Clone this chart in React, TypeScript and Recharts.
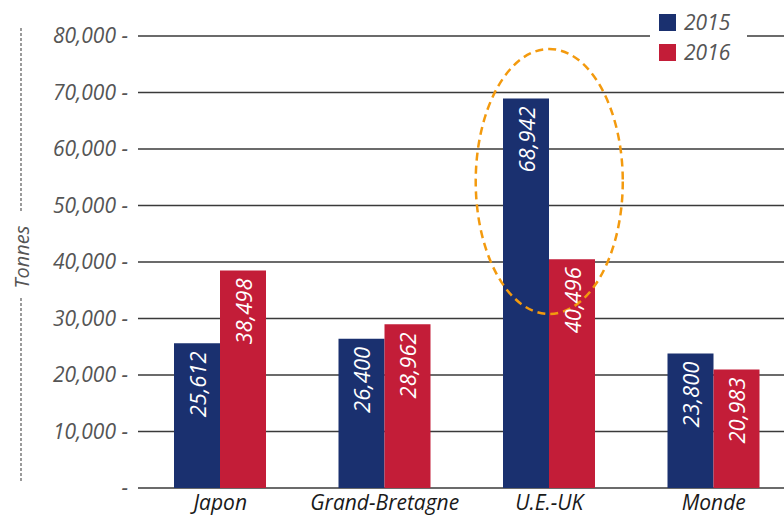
import React from 'react';
import {
  BarChart,
  Bar,
  XAxis,
  YAxis,
  CartesianGrid,
  Legend,
  LabelList,
  ReferenceArea,
} from 'recharts';

const categories = ['Japon', 'Grand-Bretagne', 'U.E.-UK', 'Monde'];
const values2015 = [25612, 26400, 68942, 23800];
const values2016 = [38498, 28962, 40496, 20983];
const yTicks = [0, 10000, 20000, 30000, 40000, 50000, 60000, 70000, 80000];
const seriesNames = ['2015', '2016'];
const highlightCategory = 'U.E.-UK';
const highlightRange = [30800, 77700];

const BLUE = '#1A306F';
const RED = '#C31D38';
const FONT = '"Open Sans", "Noto Sans", "DejaVu Sans", sans-serif';

const data = categories.map((c, i) => ({
  name: c,
  y2015: values2015[i],
  y2016: values2016[i],
}));

const fmt = (v: number) => v.toLocaleString('en-US');

const BarValueLabel = (props: any) => {
  const { x, y, width, value } = props;
  const cx = Number(x) + Number(width) / 2;
  const ty = Number(y) + 8;
  return (
    <text
      x={cx}
      y={ty}
      transform={`rotate(-90 ${cx} ${ty})`}
      textAnchor="end"
      dominantBaseline="central"
      fill="#ffffff"
      fontStyle="italic"
      fontSize={22}
      fontFamily={FONT}
    >
      {fmt(Number(value))}
    </text>
  );
};

const TonnesLabel = (props: any) => {
  const vb = props.viewBox || { x: 0, y: 36, width: 138, height: 452 };
  const lx = 21;
  const top = vb.y - 8;
  const bottom = vb.y + vb.height - 6;
  const cy = vb.y + vb.height / 2 - 5;
  return (
    <g>
      <line x1={lx} x2={lx} y1={top} y2={cy - 45} stroke="#666" strokeWidth={1.3} strokeDasharray="3 2" />
      <line x1={lx} x2={lx} y1={cy + 41} y2={bottom} stroke="#666" strokeWidth={1.3} strokeDasharray="3 2" />
      <text
        x={lx}
        y={cy}
        transform={`rotate(-90 ${lx} ${cy})`}
        textAnchor="middle"
        dominantBaseline="central"
        fill="#555"
        fontStyle="italic"
        fontSize={20}
        fontFamily={FONT}
      >
        Tonnes
      </text>
    </g>
  );
};

const EllipseShape = (props: any) => {
  const { x, y, width, height } = props;
  const cx = Number(x) + Number(width) / 2;
  const cy = Number(y) + Number(height) / 2;
  return (
    <ellipse
      cx={cx}
      cy={cy}
      rx={Number(width) * 0.447}
      ry={Number(height) / 2}
      fill="none"
      stroke="#F39A0E"
      strokeWidth={2.5}
      strokeDasharray="8 5"
    />
  );
};

const LegendContent = () => {
  const colors = [BLUE, RED];
  return (
    <div
      style={{
        background: '#fff',
        width: 97,
        height: 62,
        boxSizing: 'border-box',
      }}
    >
      {seriesNames.map((n, i) => (
        <div
          key={n}
          style={{
            display: 'flex',
            alignItems: 'center',
            height: 30,
            paddingLeft: 9,
          }}
        >
          <div style={{ width: 17, height: 17, background: colors[i], marginRight: 8 }} />
          <span
            style={{
              fontFamily: FONT,
              fontStyle: 'italic',
              fontSize: 21,
              color: '#555',
              lineHeight: '30px',
            }}
          >
            {n}
          </span>
        </div>
      ))}
    </div>
  );
};

export default function App() {
  return (
    <div
      style={{
        position: 'absolute',
        left: 0,
        top: 0,
        width: 784,
        height: 515,
        overflow: 'hidden',
        background: '#fff',
      }}
    >
      <BarChart
        width={796}
        height={515}
        data={data}
        margin={{ top: 36, right: 0, bottom: 0, left: 0 }}
        barGap={0}
        barSize={46}
      >
        <CartesianGrid horizontal={true} vertical={false} stroke="#3a3a3a" strokeWidth={1.4} />
        <XAxis
          dataKey="name"
          height={27}
          tickLine={false}
          axisLine={false}
          tickSize={0}
          tickMargin={7}
          interval={0}
          tick={{ fill: '#1a1a1a', fontSize: 21, fontStyle: 'italic', fontFamily: FONT }}
        />
        <YAxis
          width={138}
          domain={[0, 80000]}
          ticks={yTicks}
          tickLine={false}
          axisLine={false}
          tickSize={0}
          tickMargin={10}
          interval={0}
          tickFormatter={(v: number) => (v === 0 ? '-' : fmt(v) + ' -')}
          tick={{ fill: '#555', fontSize: 21, fontStyle: 'italic', fontFamily: FONT }}
          label={{ content: TonnesLabel }}
        />
        <Legend
          layout="vertical"
          align="center"
          verticalAlign="middle"
          wrapperStyle={{ left: 650, top: 7, width: 97, height: 62 }}
          content={LegendContent}
        />
        <Bar dataKey="y2015" name={seriesNames[0]} fill={BLUE} isAnimationActive={false}>
          <LabelList dataKey="y2015" content={BarValueLabel} />
        </Bar>
        <Bar dataKey="y2016" name={seriesNames[1]} fill={RED} isAnimationActive={false}>
          <LabelList dataKey="y2016" content={BarValueLabel} />
        </Bar>
        <ReferenceArea
          x1={highlightCategory}
          x2={highlightCategory}
          y1={highlightRange[0]}
          y2={highlightRange[1]}
          shape={EllipseShape}
          zIndex={1000}
        />
      </BarChart>
    </div>
  );
}
